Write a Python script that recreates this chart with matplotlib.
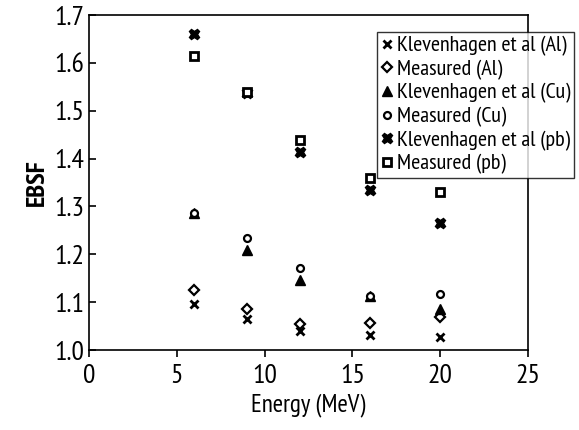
import matplotlib
matplotlib.use('Agg')
import matplotlib.pyplot as plt

energy = [6, 9, 12, 16, 20]
klev_al = [1.097, 1.064, 1.040, 1.031, 1.027]
meas_al = [1.125, 1.085, 1.055, 1.056, 1.069]
klev_cu = [1.286, 1.209, 1.146, 1.113, 1.086]
meas_cu = [1.287, 1.235, 1.172, 1.113, 1.117]
klev_pb = [1.660, 1.538, 1.414, 1.335, 1.266]
meas_pb = [1.614, 1.540, 1.439, 1.359, 1.331]

plt.rcParams['font.family'] = ['PT Sans Narrow', 'Fira Sans Condensed', 'DejaVu Sans']

fig = plt.figure(figsize=(5.79, 4.3), dpi=100)
ax = fig.add_axes([0.154, 0.186, 0.758, 0.779])

ax.plot(energy, klev_al, 'x', color='black', ms=6, mew=2, label='Klevenhagen et al (Al)')
ax.plot(energy, meas_al, 'D', mfc='white', mec='black', ms=5, mew=1.6, label='Measured (Al)')
ax.plot(energy, klev_cu, '^', color='black', ms=7, label='Klevenhagen et al (Cu)')
ax.plot(energy, meas_cu, 'o', mfc='white', mec='black', ms=5, mew=1.6, label='Measured (Cu)')
ax.plot(energy, klev_pb, 'X', color='black', ms=7.5, label='Klevenhagen et al (pb)')
ax.plot(energy, meas_pb, 's', mfc='white', mec='black', ms=6, mew=2, label='Measured (pb)')

ax.set_xlim(0, 25)
ax.set_ylim(1.0, 1.7)
ax.set_xticks([0, 5, 10, 15, 20, 25])
ax.set_yticks([1.0, 1.1, 1.2, 1.3, 1.4, 1.5, 1.6, 1.7])
ax.set_yticklabels(['1.0', '1.1', '1.2', '1.3', '1.4', '1.5', '1.6', '1.7'])
ax.tick_params(axis='x', direction='out', length=5, width=1.2, labelsize=20, pad=5)
ax.tick_params(axis='y', direction='in', length=5, width=1.2, labelsize=20)
for s in ax.spines.values():
    s.set_linewidth(1.2)

ax.set_xlabel('Energy (MeV)', fontsize=18)
ax.set_ylabel('EBSF', fontsize=19, fontweight='bold')

leg = fig.legend(loc='upper left', bbox_to_anchor=(377 / 579, 1 - 32 / 430),
                 fontsize=16, frameon=True, fancybox=False, edgecolor='black',
                 handlelength=0.5, handletextpad=0.2, borderpad=0.18,
                 labelspacing=0.15, borderaxespad=0)
leg.get_frame().set_linewidth(1.0)

fig.savefig('out.png', dpi=100)
